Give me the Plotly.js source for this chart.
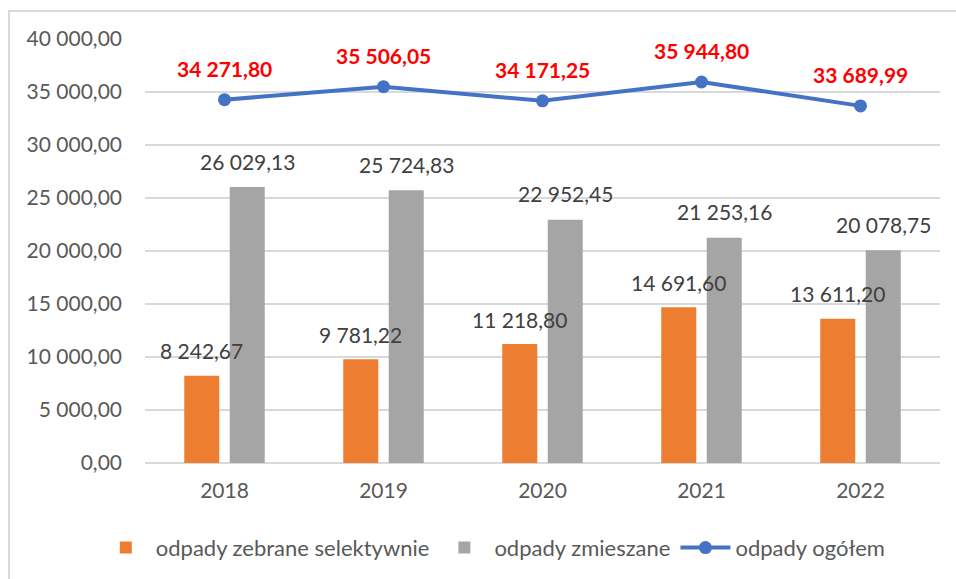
<!DOCTYPE html>
<html>
<head>
<meta charset="utf-8">
<script src="https://cdn.plot.ly/plotly-3.0.1.min.js"></script>
<style>
  html, body { margin: 0; padding: 0; background: #ffffff; }
  #wrap { position: relative; width: 956px; height: 579px; overflow: hidden; }
  #chart { position: absolute; left: 0; top: 0; width: 956px; height: 579px; }
  #frame { position: absolute; left: 8px; top: 10px; width: 1000px; height: 600px;
           border-left: 2px solid #d9d9d9; border-top: 2px solid #d9d9d9; pointer-events: none; }
</style>
</head>
<body>
<div id="wrap">
  <div id="chart"></div>
  <div id="frame"></div>
</div>
<script>
// ---- data ----
const years = ["2018", "2019", "2020", "2021", "2022"];
const selektywnie = [8242.67, 9781.22, 11218.80, 14691.60, 13611.20];
const zmieszane = [26029.13, 25724.83, 22952.45, 21253.16, 20078.75];
const ogolem = [34271.80, 35506.05, 34171.25, 35944.80, 33689.99];
const seriesNames = ["odpady zebrane selektywnie", "odpady zmieszane", "odpady ogółem"];

function fmt(v) {
  const parts = v.toFixed(2).split(".");
  const intPart = parts[0].replace(/\B(?=(\d{3})+(?!\d))/g, " ");
  return intPart + "," + parts[1];
}

const FONT = "Lato, 'Open Sans', sans-serif";
const FS = 21;

const traces = [
  {
    type: "bar", name: seriesNames[0], x: years, y: selektywnie,
    marker: { color: "#ED7D31" }, hoverinfo: "skip"
  },
  {
    type: "bar", name: seriesNames[1], x: years, y: zmieszane,
    marker: { color: "#A5A5A5" }, hoverinfo: "skip"
  },
  {
    type: "scatter", mode: "lines+markers", name: seriesNames[2], x: years, y: ogolem,
    line: { color: "#4472C4", width: 4 },
    marker: { color: "#4472C4", size: 13 }, hoverinfo: "skip"
  }
];

// slot offset in pixels for grouped bar labels
const SLOT = 22.75;
const annotations = [];
// on a category axis, annotation x is the category's serial index
years.forEach((yr, i) => {
  annotations.push({
    x: i, y: selektywnie[i], xref: "x", yref: "y", text: fmt(selektywnie[i]),
    showarrow: false, xshift: -SLOT, yshift: 25, yanchor: "middle",
    font: { family: FONT, size: FS, color: "#404040" }
  });
  annotations.push({
    x: i, y: zmieszane[i], xref: "x", yref: "y", text: fmt(zmieszane[i]),
    showarrow: false, xshift: SLOT, yshift: 26, yanchor: "middle",
    font: { family: FONT, size: FS, color: "#404040" }
  });
  annotations.push({
    x: i, y: ogolem[i], xref: "x", yref: "y", text: "<b>" + fmt(ogolem[i]) + "</b>",
    showarrow: false, yshift: 31, yanchor: "middle",
    font: { family: FONT, size: FS, color: "#FF0000" }
  });
});

const layout = {
  width: 956, height: 579,
  margin: { l: 145, r: 16, t: 39, b: 116 },
  paper_bgcolor: "rgba(0,0,0,0)", plot_bgcolor: "#ffffff",
  separators: ", ",
  font: { family: FONT, size: FS, color: "#595959" },
  barmode: "group", bargap: 0.428, bargroupgap: 0.23,
  showlegend: true,
  legend: {
    orientation: "h", xref: "container", yref: "container",
    x: 0.516, xanchor: "center", y: 0.054, yanchor: "middle",
    itemwidth: 50,
    font: { family: FONT, size: 22, color: "#595959" }, traceorder: "normal"
  },
  xaxis: {
    type: "category", range: [-0.5, 4.5], autorange: false,
    showgrid: false, zeroline: false, showline: false,
    ticks: "", ticklabelstandoff: 13,
    tickfont: { family: FONT, size: FS, color: "#595959" }
  },
  yaxis: {
    range: [0, 40000], autorange: false, dtick: 5000, tick0: 0, tickformat: ",.2f",
    showgrid: true, gridcolor: "#d9d9d9", gridwidth: 1.5,
    zeroline: true, zerolinecolor: "#d9d9d9", zerolinewidth: 1.5,
    showline: false, ticks: "", ticklabelstandoff: 22,
    tickfont: { family: FONT, size: FS, color: "#595959" }
  },
  annotations: annotations
};

Plotly.newPlot("chart", traces, layout, { displayModeBar: false, staticPlot: true });
</script>
</body>
</html>
